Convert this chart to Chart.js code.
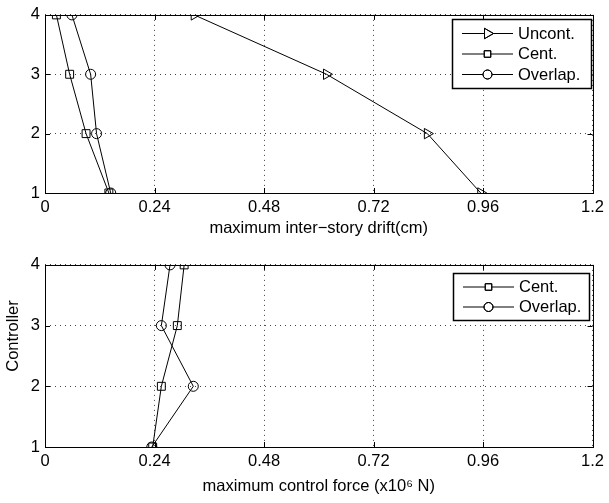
<!DOCTYPE html>
<html>
<head>
<meta charset="utf-8">
<script src="https://cdn.jsdelivr.net/npm/chart.js@4.4.0/dist/chart.umd.min.js"></script>
<style>
    html, body { margin: 0; padding: 0; background: #fff; }
    .wrap { position: absolute; left: 0; width: 609px; }
    #top { top: 0; height: 250px; }
    #bottom { top: 250px; height: 253px; }
</style>
</head>
<body>
<div class="wrap" id="top"><canvas id="driftChart" width="609" height="250"></canvas></div>
<div class="wrap" id="bottom"><canvas id="forceChart" width="609" height="253"></canvas></div>
<script>
// controller levels (y axis)
const levels = [1, 2, 3, 4];
const xTicks = [0, 0.24, 0.48, 0.72, 0.96, 1.2];

// maximum inter-story drift (cm), per level 1..4
const driftUncont = [0.955, 0.838, 0.617, 0.327];
const driftCent = [0.140, 0.090, 0.054, 0.025];
const driftOverlap = [0.144, 0.113, 0.100, 0.059];

// maximum control force (x10^6 N), per level 1..4
const forceCent = [0.236, 0.255, 0.290, 0.305];
const forceOverlap = [0.234, 0.325, 0.255, 0.274];

const FONT = "'Liberation Sans', Arial, Helvetica, sans-serif";

function toPoints(xs) {
    return xs.map((x, i) => ({ x: x, y: levels[i] }));
}

function makeSet(label, xs, style) {
    const sizes = { triangle: 6, rect: 5.6, circle: 5 };
    return {
        label: label,
        data: toPoints(xs),
        showLine: true,
        borderColor: "#000",
        borderWidth: 1,
        backgroundColor: "rgba(0,0,0,0)",
        pointStyle: style,
        pointRotation: style === "triangle" ? 90 : 0,
        pointRadius: sizes[style],
        pointBorderColor: "#000",
        pointBorderWidth: 1,
        pointBackgroundColor: "rgba(0,0,0,0)"
    };
}

// frame, inward ticks, and boxed legend like the matlab figure
const matlabBox = {
    id: "matlabBox",
    afterDraw(chart, args, opts) {
        const ctx = chart.ctx;
        const a = chart.chartArea;
        const xs = chart.scales.x;
        const ys = chart.scales.y;
        ctx.save();
        ctx.strokeStyle = "#000";
        ctx.lineWidth = 1;
        ctx.setLineDash([]);
        ctx.strokeRect(Math.round(a.left) + 0.5, Math.round(a.top) + 0.5,
            Math.round(a.right - a.left), Math.round(a.bottom - a.top));

        ctx.beginPath();
        xTicks.forEach((v) => {
            const px = Math.round(xs.getPixelForValue(v)) + 0.5;
            ctx.moveTo(px, a.bottom); ctx.lineTo(px, a.bottom - 5);
            ctx.moveTo(px, a.top); ctx.lineTo(px, a.top + 5);
        });
        levels.forEach((v) => {
            const py = Math.round(ys.getPixelForValue(v)) + 0.5;
            ctx.moveTo(a.left, py); ctx.lineTo(a.left + 5, py);
            ctx.moveTo(a.right, py); ctx.lineTo(a.right - 5, py);
        });
        ctx.stroke();

        // legend
        const sets = chart.data.datasets;
        const lx = opts.x, ly = opts.y, lw = opts.w, rowH = opts.rowH;
        const lh = opts.h;
        ctx.fillStyle = "#fff";
        ctx.fillRect(lx, ly, lw, lh);
        ctx.lineWidth = 1.5;
        ctx.strokeRect(lx + 0.5, ly + 0.5, lw, lh);
        ctx.font = "16.5px " + FONT;
        ctx.textBaseline = "middle";
        ctx.textAlign = "left";
        sets.forEach((ds, i) => {
            const cy = ly + opts.firstRow + i * rowH;
            ctx.lineWidth = 1;
            ctx.strokeStyle = "#000";
            ctx.beginPath();
            ctx.moveTo(lx + 10, cy + 0.5);
            ctx.lineTo(lx + 61, cy + 0.5);
            ctx.stroke();
            const r = ds.pointStyle === "circle" ? 4.5 : (ds.pointStyle === "rect" ? 4.6 : 6);
            const fakeStyle = { pointStyle: ds.pointStyle, rotation: ds.pointRotation, radius: r, borderWidth: 1 };
            ctx.fillStyle = "#fff";
            Chart.helpers.drawPoint(ctx, fakeStyle, lx + 35.5, cy + 0.5);
            ctx.stroke();
            ctx.fillStyle = "#000";
            ctx.fillText(ds.label, lx + 66, cy + 1);
        });

        if (opts.yTitle) {
            ctx.save();
            ctx.translate(13, opts.yTitleY);
            ctx.rotate(-Math.PI / 2);
            ctx.textAlign = "center";
            ctx.fillStyle = "#000";
            ctx.font = "16.5px " + FONT;
            ctx.fillText(opts.yTitle, 0, 0);
            ctx.restore();
        }
        ctx.restore();
    }
};

function baseOptions(xTitle, xAxisH, titlePad, padTop, box) {
    return {
        responsive: false,
        animation: false,
        layout: { padding: { top: padTop, right: 12, left: 0, bottom: 0 } },
        plugins: {
            legend: { display: false },
            tooltip: { enabled: false },
            matlabBox: box
        },
        scales: {
            x: {
                type: "linear",
                min: 0,
                max: 1.2,
                afterBuildTicks: (s) => { s.ticks = xTicks.map((v) => ({ value: v })); },
                afterFit: (s) => { s.height = xAxisH; },
                ticks: {
                    color: "#000",
                    padding: 5,
                    maxRotation: 0,
                    font: { family: FONT, size: 16.5 },
                    callback: (v) => String(v)
                },
                grid: { color: "#444", lineWidth: 1, drawTicks: false },
                border: { display: false, dash: [1, 4] },
                title: {
                    display: true,
                    text: xTitle,
                    color: "#000",
                    font: { family: FONT, size: 16.5 },
                    padding: { top: 0, bottom: titlePad }
                }
            },
            y: {
                type: "linear",
                min: 1,
                max: 4,
                afterBuildTicks: (s) => { s.ticks = levels.map((v) => ({ value: v })); },
                afterFit: (s) => { s.width = 45; },
                ticks: {
                    color: "#000",
                    padding: 5,
                    font: { family: FONT, size: 16.5 }
                },
                grid: { color: "#444", lineWidth: 1, drawTicks: false },
                border: { display: false, dash: [1, 4] }
            }
        }
    };
}

new Chart(document.getElementById("driftChart"), {
    type: "scatter",
    data: {
        datasets: [
            makeSet("Uncont.", driftUncont, "triangle"),
            makeSet("Cent.", driftCent, "rect"),
            makeSet("Overlap.", driftOverlap, "circle")
        ]
    },
    options: baseOptions("maximum inter\u2212story drift(cm)", 57, 12, 11,
        { x: 452, y: 19, w: 139, h: 69, rowH: 20.5, firstRow: 14 }),
    plugins: [matlabBox]
});

new Chart(document.getElementById("forceChart"), {
    type: "scatter",
    data: {
        datasets: [
            makeSet("Cent.", forceCent, "rect"),
            makeSet("Overlap.", forceOverlap, "circle")
        ]
    },
    options: baseOptions("maximum control force (x10\u2076 N)", 56, 7, 14,
        { x: 453, y: 23, w: 136, h: 47, rowH: 20, firstRow: 13.5, yTitle: "Controller", yTitleY: 86 }),
    plugins: [matlabBox]
});
</script>
</body>
</html>
